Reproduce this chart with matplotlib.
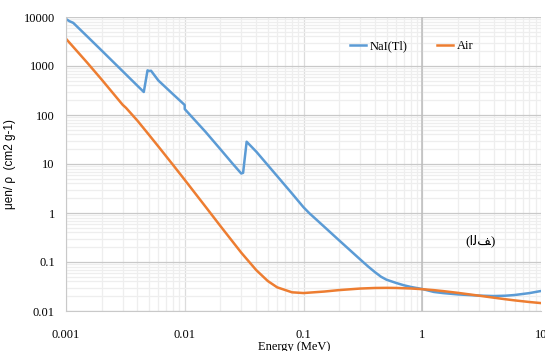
import numpy as np
import matplotlib; matplotlib.use('Agg'); import matplotlib.pyplot as plt
from matplotlib.ticker import LogLocator, NullFormatter

# mass energy-absorption coefficients (MeV, cm2/g)
nai_E = [0.001, 0.00107, 0.00115, 0.0015, 0.002, 0.003, 0.004, 0.00452, 0.00486, 0.0050, 0.0052,
         0.006, 0.008, 0.00999, 0.01, 0.015, 0.02, 0.025, 0.0299, 0.031, 0.0332, 0.04, 0.05, 0.06,
         0.08, 0.1, 0.112, 0.15, 0.2, 0.3, 0.35, 0.4, 0.45, 0.5, 0.6, 0.7, 0.8, 1.0, 1.25, 1.5, 2.0,
         3.0, 4.0, 5.0, 6.0, 8.0, 10.0]
nai_mu = [9100, 8200, 7600, 4070, 2060, 783, 394, 295, 815, 790, 800,
          505, 263, 160, 132, 45, 19.9, 10.5, 6.4, 6.6, 28.5, 17.9, 9.5, 5.66,
          2.5, 1.31, 0.99, 0.52, 0.275, 0.113, 0.081, 0.062, 0.050, 0.0435, 0.0375, 0.0335, 0.031,
          0.0281, 0.0245, 0.0232, 0.0218, 0.0206, 0.0202, 0.0205, 0.0212, 0.0232, 0.0256]
air_E = [0.001, 0.0015, 0.002, 0.003, 0.0032, 0.004, 0.005, 0.006, 0.008, 0.01, 0.015, 0.02, 0.03,
         0.04, 0.05, 0.06, 0.08, 0.1, 0.15, 0.2, 0.3, 0.4, 0.5, 0.6, 0.8, 1.0, 1.25, 1.5, 2.0,
         3.0, 4.0, 5.0, 6.0, 8.0, 10.0]
air_mu = [3599, 1188, 526.2, 161.4, 140, 76.36, 39.31, 22.70, 9.446, 4.742, 1.334, 0.5389, 0.1537,
          0.06833, 0.04098, 0.03041, 0.02407, 0.02325, 0.02496, 0.02672, 0.02872, 0.02949, 0.02966,
          0.02953, 0.02882, 0.02789, 0.02666, 0.02547, 0.02345, 0.02057, 0.01870, 0.01740, 0.01647,
          0.01525, 0.01450]
xticks = [0.001, 0.01, 0.1, 1, 10]
xlabels = ['0.001', '0.01', '0.1', '1', '10']
yticks = [0.01, 0.1, 1, 10, 100, 1000, 10000]
ylabels = ['0.01', '0.1', '1', '10', '100', '1000', '10000']

SERIF = ['Liberation Serif', 'DejaVu Serif']
plt.rcParams['font.family'] = SERIF
fig = plt.figure(figsize=(5.45, 3.51), dpi=100)
ax = fig.add_axes([66/545, 1-311/351, 475/545, 294/351])
ax.set_xscale('log'); ax.set_yscale('log')
ax.set_xlim(0.001, 10); ax.set_ylim(0.01, 10000)

ax.plot(nai_E, nai_mu, color='#5B9BD5', lw=1.8, label='NaI(Tl)', solid_joinstyle='round')
ax.plot(air_E, air_mu, color='#ED7D31', lw=1.8, label='Air', solid_joinstyle='round')

ax.set_xticks(xticks, xlabels); ax.set_yticks(yticks, ylabels)
ax.xaxis.set_minor_locator(LogLocator(base=10, subs=np.arange(2, 10), numticks=20))
ax.yaxis.set_minor_locator(LogLocator(base=10, subs=np.arange(2, 10), numticks=20))
ax.xaxis.set_minor_formatter(NullFormatter()); ax.yaxis.set_minor_formatter(NullFormatter())
ax.grid(which='minor', color='#eeeeee', lw=0.9)
ax.grid(which='major', axis='y', color='#c9c9c9', lw=0.9)
ax.grid(which='major', axis='x', color='#dcdcdc', lw=0.9)
ax.axvline(1, color='#bdbdbd', lw=1.1, zorder=1)
ax.set_axisbelow(True)
for s in ('top', 'right'): ax.spines[s].set_visible(False)
for s in ('left', 'bottom'): ax.spines[s].set_color('#c9c9c9')
ax.tick_params(which='both', length=0, labelsize=9, colors='black')
ax.tick_params(axis='x', pad=13); ax.tick_params(axis='y', pad=8)

ax.set_xlabel('Energy (MeV)', fontsize=9, labelpad=1)
ax.xaxis.set_label_coords(0.48, -0.102)
ax.set_ylabel('μen/ ρ  (cm2 g-1)', fontsize=8.5, family=['Liberation Sans', 'DejaVu Sans'])
ax.yaxis.set_label_coords(-0.106, 0.5)

ax.legend(loc='center left', bbox_to_anchor=((350-66)/475, 1-(46-17)/294), frameon=False, ncol=2,
          fontsize=9, handlelength=1.3, handletextpad=0.3, columnspacing=2.3, borderpad=0, borderaxespad=0)
ax.text((481-66)/475, 1-(241-17)/294, '(\u0627\ufedf\ufed2)', transform=ax.transAxes, ha='center',
        va='center', fontsize=9.5, family=['Liberation Serif', 'DejaVu Sans'])

fig.savefig('out.png', dpi=100)
